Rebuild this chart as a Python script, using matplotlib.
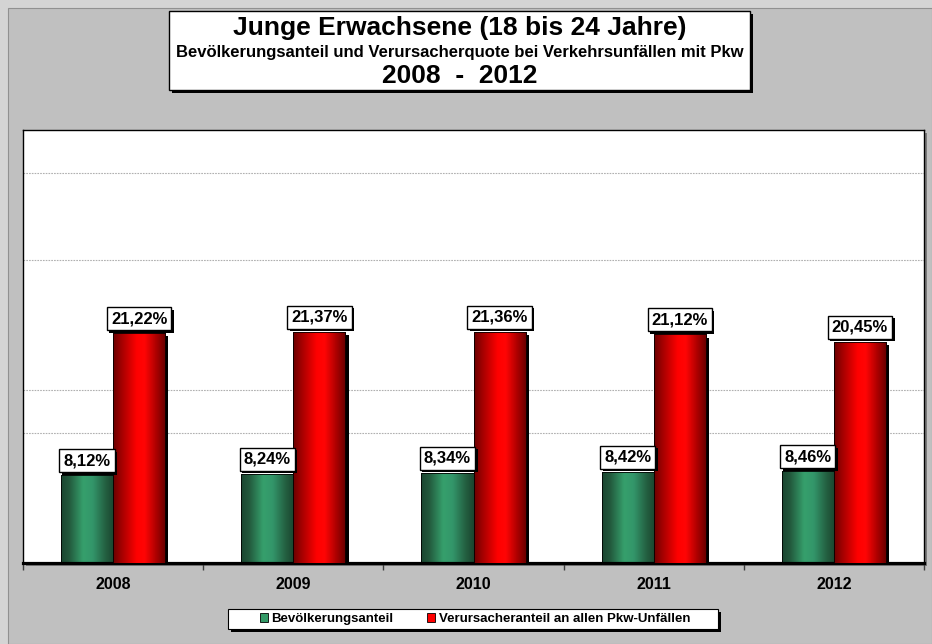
import matplotlib
matplotlib.use("Agg")
import matplotlib.pyplot as plt
import numpy as np
from matplotlib.patches import Rectangle, Patch
from matplotlib.colors import LinearSegmentedColormap
import matplotlib.patheffects as pe

years = ["2008", "2009", "2010", "2011", "2012"]
bevoelkerung = [8.12, 8.24, 8.34, 8.42, 8.46]
verursacher = [21.22, 21.37, 21.36, 21.12, 20.45]
grid_values = [12, 16, 28, 36]
title1 = "Junge Erwachsene (18 bis 24 Jahre)"
title2 = "Bevölkerungsanteil und Verursacherquote bei Verkehrsunfällen mit Pkw"
title3 = "2008  -  2012"
legend_labels = ["Bevölkerungsanteil", "Verursacheranteil an allen Pkw-Unfällen"]

W, H = 932, 644
plt.rcParams['font.family'] = ['Liberation Sans', 'DejaVu Sans']
fig = plt.figure(figsize=(W / 100, H / 100), dpi=100)
fig.patch.set_facecolor('#D4D4D4')

def fx(x):
    return x / W

def fy(y):
    return 1 - y / H

# chart area background
fig.add_artist(Rectangle((fx(8), 0), 1 - fx(8), fy(8), transform=fig.transFigure,
                         facecolor='#C0C0C0', edgecolor='#909090', lw=0.8, zorder=-2))

# plot area
L, R, T, B = 23, 924, 130, 563
fig.add_artist(Rectangle((fx(L + 3), fy(B + 3)), fx(R - L), (B - T) / H, transform=fig.transFigure,
                         facecolor='#7A7A7A', edgecolor='none', zorder=-1))
ax = fig.add_axes([fx(L), fy(B), fx(R - L), (B - T) / H])
ax.set_zorder(1)
ax.set_facecolor('white')

x = np.arange(len(years))
bw = 0.289

green_cmap = LinearSegmentedColormap.from_list('g', [
    (0.0, '#1A4530'), (0.15, '#22583C'), (0.42, '#36A06C'), (0.6, '#33966A'),
    (0.85, '#235E40'), (1.0, '#1A452F')])
red_cmap = LinearSegmentedColormap.from_list('r', [
    (0.0, '#6A0000'), (0.15, '#A00000'), (0.45, '#FF0000'), (0.6, '#FF0505'),
    (0.85, '#A00000'), (1.0, '#650000')])
grad = np.linspace(0, 1, 256).reshape(1, -1)

shadow = [pe.SimplePatchShadow(offset=(2.3, -2.3), shadow_rgbFace='black', alpha=1.0), pe.Normal()]

bars_g = ax.bar(x - bw / 2, bevoelkerung, bw, color='#339966', edgecolor='black', lw=0.6, zorder=2)
bars_r = ax.bar(x + bw / 2, verursacher, bw, color='#FF0000', edgecolor='black', lw=0.6, zorder=3)

for bars, cmap, z in ((bars_g, green_cmap, 2), (bars_r, red_cmap, 3)):
    for rect in bars:
        rect.set_path_effects(shadow)
        x0, w, h = rect.get_x(), rect.get_width(), rect.get_height()
        im = ax.imshow(grad, cmap=cmap, extent=[x0, x0 + w, 0, h], aspect='auto',
                       interpolation='bicubic', zorder=z + 0.1)
        im.set_clip_path(rect)
    for rect in bars:
        ax.add_patch(Rectangle((rect.get_x(), 0), rect.get_width(), rect.get_height(),
                               facecolor='none', edgecolor='black', lw=0.6, zorder=z + 0.2))

ax.set_xlim(-0.5, len(years) - 0.5)
ax.set_ylim(0, 40)

for g in grid_values:
    ax.axhline(g, color='#B0B0B0', lw=0.8, ls=(0, (1.5, 1)), zorder=1)

def label(xv, yv):
    t = ax.annotate(f"{yv:.2f}%".replace('.', ','), (xv, yv), xytext=(0, 5.0),
                    textcoords='offset points', ha='center', va='bottom',
                    fontsize=12, fontweight='bold', zorder=6,
                    bbox=dict(boxstyle='square,pad=0.24', facecolor='white', edgecolor='black', lw=1.0))
    t.get_bbox_patch().set_path_effects(
        [pe.SimplePatchShadow(offset=(1.8, -1.8), shadow_rgbFace='black', alpha=1.0), pe.Normal()])

for i in range(len(years)):
    label(x[i] - bw / 2, bevoelkerung[i])
    label(x[i] + bw / 2, verursacher[i])

for s in ('left', 'top', 'right'):
    ax.spines[s].set_color('black')
    ax.spines[s].set_linewidth(1.0)
ax.spines['bottom'].set_linewidth(2.3)
ax.spines['bottom'].set_color('black')
ax.set_yticks([])
ax.set_xticks(x)
ax.set_xticklabels(years, fontsize=11.5, fontweight='bold')
ax.tick_params(axis='x', which='major', length=0, pad=10)
ax.set_xticks(np.arange(-0.5, len(years)), minor=True)
ax.tick_params(axis='x', which='minor', length=5, width=1.0, color='#404040', direction='out')

# title box
tb = Rectangle((fx(169), fy(90)), fx(750 - 169), (90 - 11) / H, transform=fig.transFigure,
               facecolor='white', edgecolor='black', lw=1.0, zorder=5)
tb.set_path_effects([pe.SimplePatchShadow(offset=(2.3, -2.3), shadow_rgbFace='black', alpha=1.0), pe.Normal()])
fig.add_artist(tb)
cx = fx((169 + 750) / 2)
fig.text(cx, fy(28), title1, ha='center', va='center', fontsize=19, fontweight='bold', zorder=6)
fig.text(cx, fy(52), title2, ha='center', va='center', fontsize=12.0, fontweight='bold', zorder=6)
fig.text(cx, fy(76), title3, ha='center', va='center', fontsize=19, fontweight='bold', zorder=6)

# legend box
lb = Rectangle((fx(228), fy(629)), fx(718 - 228), (629 - 609) / H, transform=fig.transFigure,
               facecolor='white', edgecolor='black', lw=0.8, zorder=5)
lb.set_path_effects([pe.SimplePatchShadow(offset=(2.3, -2.3), shadow_rgbFace='black', alpha=1.0), pe.Normal()])
fig.add_artist(lb)
handles = [Patch(facecolor='#339966', edgecolor='black', lw=0.6),
           Patch(facecolor='#FF0000', edgecolor='black', lw=0.6)]
leg = fig.legend(handles, legend_labels, loc='center', bbox_to_anchor=(fx(475), fy(619)),
                 ncol=2, frameon=False, prop=dict(size=9.5, weight='bold'),
                 handlelength=0.6, handleheight=0.6, handletextpad=0.25, columnspacing=2.6,
                 borderpad=0)
leg.set_zorder(6)

fig.savefig('out.png', dpi=100, facecolor=fig.get_facecolor())
